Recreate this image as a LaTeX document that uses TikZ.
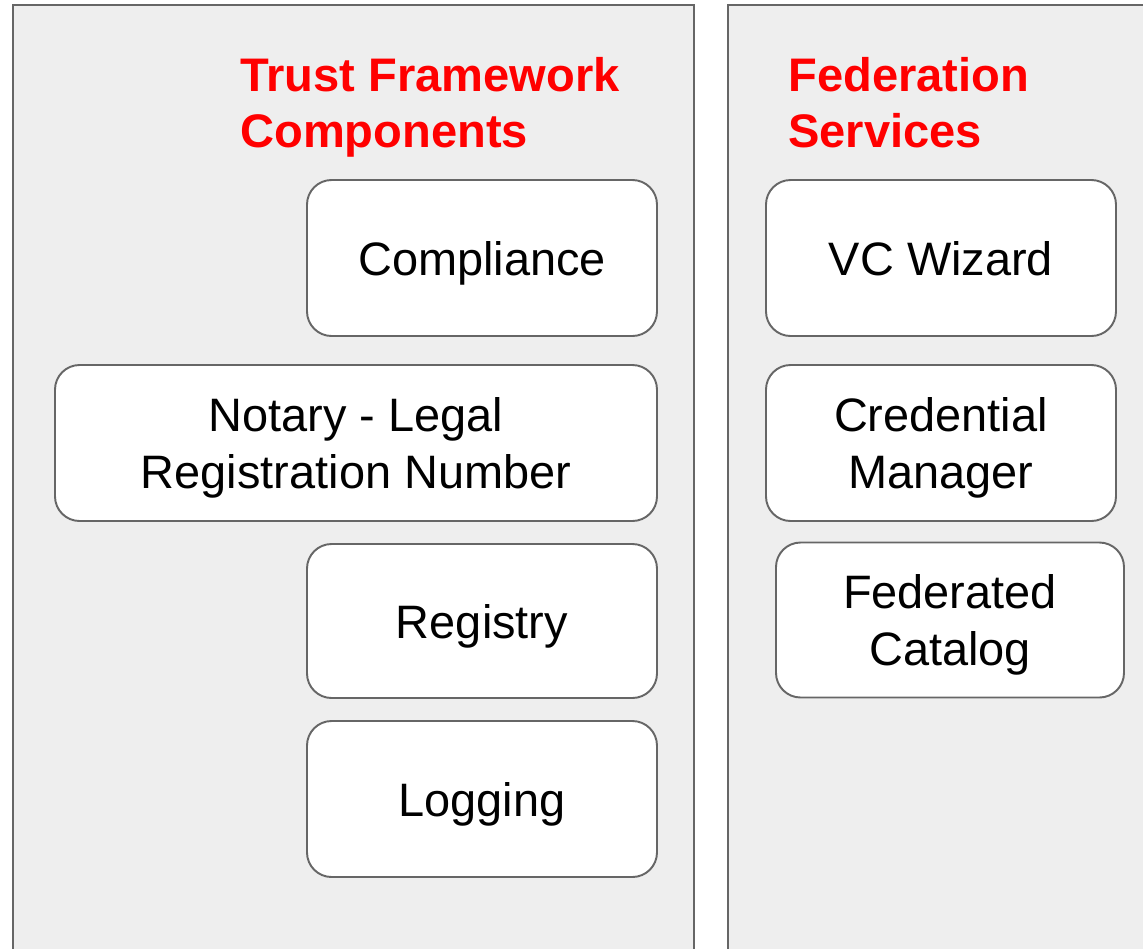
\documentclass[tikz,border=0pt]{standalone}
\usepackage{fontspec}
\setmainfont{Liberation Sans}
\definecolor{panelgray}{HTML}{EEEEEE}
\definecolor{linegray}{HTML}{666666}
\definecolor{titlered}{HTML}{FF0000}
\tikzset{
  panel/.style={draw=linegray,fill=panelgray,line width=1.2pt},
  compbox/.style={draw=linegray,fill=white,line width=1.1pt,rounded corners=14pt,
    align=center,inner sep=0pt,text depth=0pt,font=\fontsize{26.7}{32}\selectfont},
  paneltitle/.style={anchor=north west,inner sep=0pt,align=left,text=titlered,
    font=\fontsize{26.8}{31.75}\selectfont\bfseries}
}
\begin{document}
\begin{tikzpicture}[x=0.02cm,y=-0.02cm]
\useasboundingbox (0,0) rectangle (1143,948);
\clip (0,0) rectangle (1143,948);
\fill[white] (0,0) rectangle (1143,948);
% the two panels
\draw[panel] (13,5) rectangle (694,970);
\draw[panel] (728,5) rectangle (1170,970);
\node[paneltitle] (tftitle) at (240,57) {Trust Framework\\Components};
\node[paneltitle] (fstitle) at (788,57) {Federation\\Services};
% trust framework components
\node[compbox,minimum width=350*0.02cm,minimum height=156*0.02cm] (compliance) at (482,258) {Compliance};
\node[compbox,minimum width=602*0.02cm,minimum height=156*0.02cm] (notary) at (356,443) {Notary - Legal\\Registration Number};
\node[compbox,minimum width=350*0.02cm,minimum height=154*0.02cm] (registry) at (482,621) {Registry};
\node[compbox,minimum width=350*0.02cm,minimum height=156*0.02cm] (logging) at (482,799) {Logging};
% federation services
\node[compbox,minimum width=350*0.02cm,minimum height=156*0.02cm] (vcwizard) at (941,258) {VC Wizard};
\node[compbox,minimum width=350*0.02cm,minimum height=156*0.02cm] (credman) at (941,443) {Credential\\Manager};
\node[compbox,minimum width=348*0.02cm,minimum height=155*0.02cm] (fedcat) at (950,620) {Federated\\Catalog};
\end{tikzpicture}
\end{document}
